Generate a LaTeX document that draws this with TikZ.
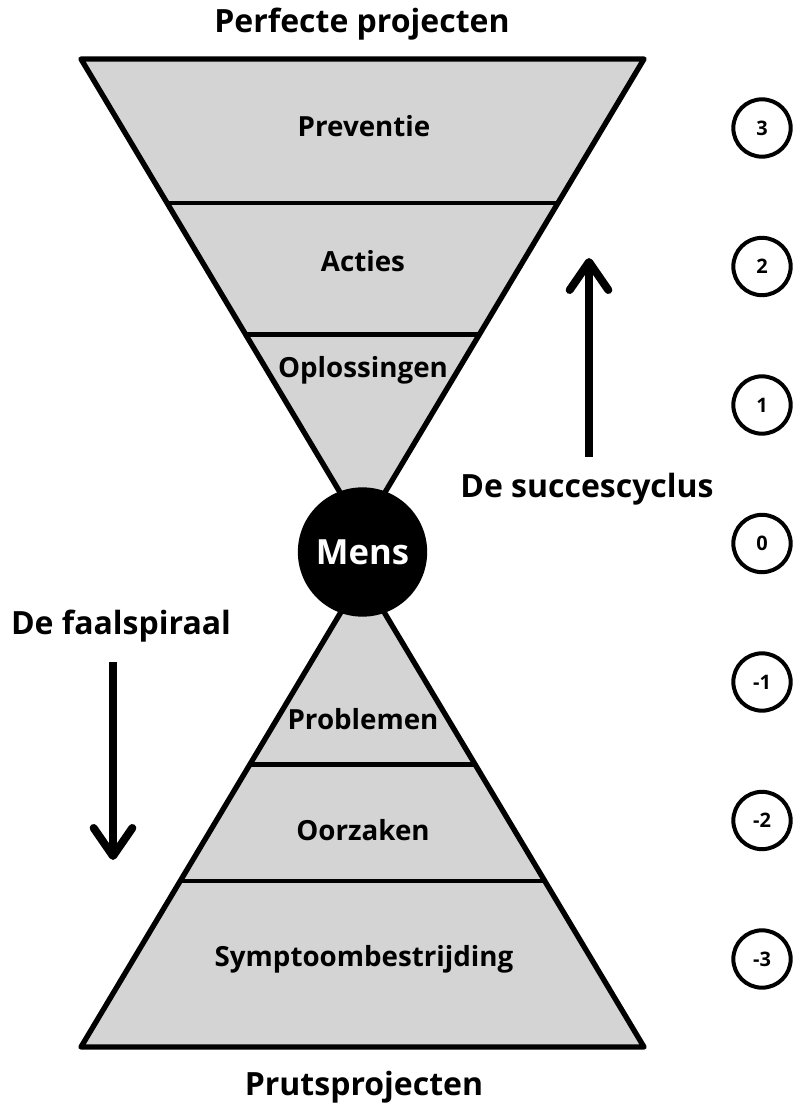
\documentclass[tikz,border=0pt]{standalone}
\usepackage{fontspec}
\setmainfont{Open Sans}
\usetikzlibrary{arrows.meta,calc}
\definecolor{zand}{RGB}{212,212,212}
\tikzstyle{glass} = [draw=black, fill=zand, line width=4pt, line join=round]
\tikzstyle{band} = [draw=black, line width=3.3pt]
\tikzstyle{bandlabel} = [anchor=base, inner sep=0pt, font=\fontsize{20.8}{24}\selectfont\bfseries]
\tikzstyle{endlabel} = [anchor=base, inner sep=0pt, font=\fontsize{24}{28}\selectfont\bfseries]
\tikzstyle{sidelabel} = [anchor=base, inner sep=0pt, font=\fontsize{24}{28}\selectfont\bfseries]
\tikzstyle{mensbox} = [circle, fill=black, text=white, minimum size=97pt, inner sep=0pt,
    font=\fontsize{26}{30}\selectfont\bfseries]
\tikzstyle{level} = [circle, draw=black, line width=3pt, minimum size=43pt, inner sep=0pt,
    font=\fontsize{15}{17}\selectfont\bfseries]
\tikzstyle{bigarrow} = [line width=6pt, -{Straight Barb[length=21pt,width=29pt,round]}]

\begin{document}
\begin{tikzpicture}[x=0.75pt,y=-0.75pt]
\useasboundingbox (0,0) rectangle (799,1105);
% upper funnel
\coordinate (tl) at (81,59);
\coordinate (tr) at (644,59);
\coordinate (ta) at (362.5,530);
\draw [glass] (tl) -- (tr) -- (ta) -- cycle;
\draw [band] ($(tl)!0.306!(ta)$) -- ($(tr)!0.306!(ta)$);
\draw [band] ($(tl)!0.585!(ta)$) -- ($(tr)!0.585!(ta)$);
% lower funnel
\coordinate (bl) at (81,1047);
\coordinate (br) at (644,1047);
\coordinate (ba) at (362.5,576);
\draw [glass] (bl) -- (br) -- (ba) -- cycle;
\draw [band] ($(bl)!0.352!(ba)$) -- ($(br)!0.352!(ba)$);
\draw [band] ($(bl)!0.600!(ba)$) -- ($(br)!0.600!(ba)$);
\node [mensbox] (mens) at (362.5,552) {Mens};

\node [endlabel] (perfect) at (362,33) {Perfecte projecten};
\node [bandlabel] (preventie) at (364,137) {Preventie};
\node [bandlabel] (acties) at (363,272) {Acties};
\node [bandlabel] (oplossingen) at (363,377) {Oplossingen};
\node [bandlabel] (problemen) at (363,729) {Problemen};
\node [bandlabel] (oorzaken) at (363,840) {Oorzaken};
\node [bandlabel] (symptoom) at (364,966) {Symptoombestrijding};
\node [endlabel] (pruts) at (364,1095) {Prutsprojecten};

% the two directions
\node [sidelabel] (succes) at (587,497) {De succescyclus};
\coordinate (sucfrom) at (589,457);
\coordinate (sucto) at (589,258);
\draw [bigarrow] (sucfrom) -- (sucto);
\node [sidelabel] (faal) at (121,634) {De faalspiraal};
\coordinate (faalfrom) at (113,662);
\coordinate (faalto) at (113,860);
\draw [bigarrow] (faalfrom) -- (faalto);

% level scale
\foreach \n [count=\i from 0] in {3,2,1,0,-1,-2,-3}
  \node [level] (lvl\i) at (762,128+138.5*\i) {\n};
\end{tikzpicture}
\end{document}
